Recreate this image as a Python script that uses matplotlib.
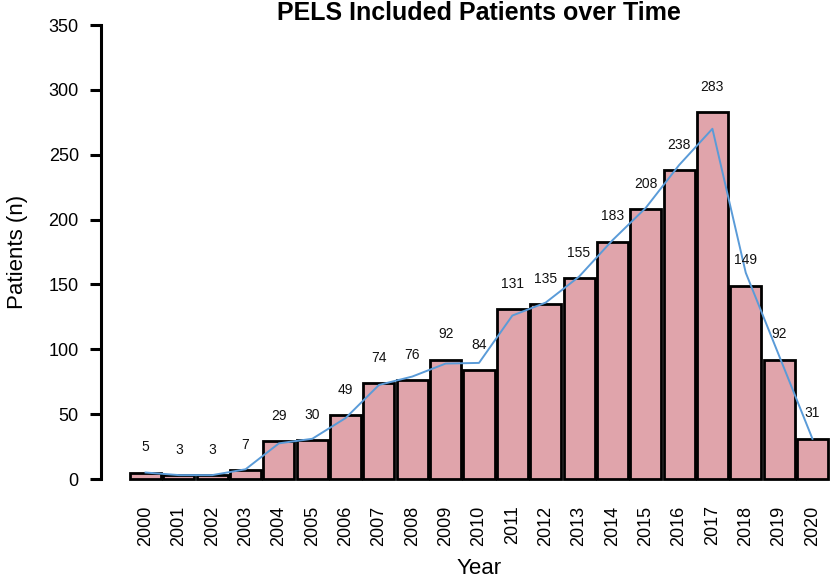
import numpy as np
import matplotlib
matplotlib.use("Agg")
import matplotlib.pyplot as plt

plt.rcParams['font.family'] = ['Liberation Sans', 'DejaVu Sans']

# data
years = [str(y) for y in range(2000, 2021)]
patients = [5, 3, 3, 7, 29, 30, 49, 74, 76, 92, 84, 131, 135, 155, 183, 208, 238, 283, 149, 92, 31]
# smoothed trend line (blue), read at bar centres
trend = [5, 3, 3, 7.5, 27.5, 31, 47, 72.5, 79, 89, 89.5, 126, 136, 156, 184, 209, 242, 270, 159, 95, 31]
yticks = [0, 50, 100, 150, 200, 250, 300, 350]

fig = plt.figure(figsize=(8.32, 5.79), dpi=100)
ax = fig.add_axes([101/832, 1 - 479/579, 756/832, 454/579])

x = np.arange(len(years))
ax.bar(x, patients, width=0.93, color='#e0a4ab', edgecolor='black', linewidth=2.0, clip_on=False, zorder=2)
ax.plot(x, trend, color='#5a9bd8', linewidth=1.4, zorder=3)

for xi, v in zip(x, patients):
    ax.text(xi, v + 19.5, str(v), ha='center', va='center', fontsize=10, color='#111111')

ax.set_xlim(-1.336, 21.336)
ax.set_ylim(0, 350)
ax.set_yticks(yticks)
ax.set_yticklabels([str(t) for t in yticks], fontsize=13)
ax.set_xticks(x)
ax.set_xticklabels(years, rotation=90, fontsize=13)
ax.tick_params(axis='x', length=0, pad=19)
ax.tick_params(axis='y', length=8, width=2.2, pad=8)

for s in ['top', 'right', 'bottom']:
    ax.spines[s].set_visible(False)
ax.spines['left'].set_linewidth(2.2)

ax.set_title('PELS Included Patients over Time', fontsize=18, fontweight='bold', pad=2)
ax.set_ylabel('Patients (n)', fontsize=16, labelpad=15)
ax.set_xlabel('Year', fontsize=16, labelpad=9)

fig.savefig('out.png', dpi=100)
